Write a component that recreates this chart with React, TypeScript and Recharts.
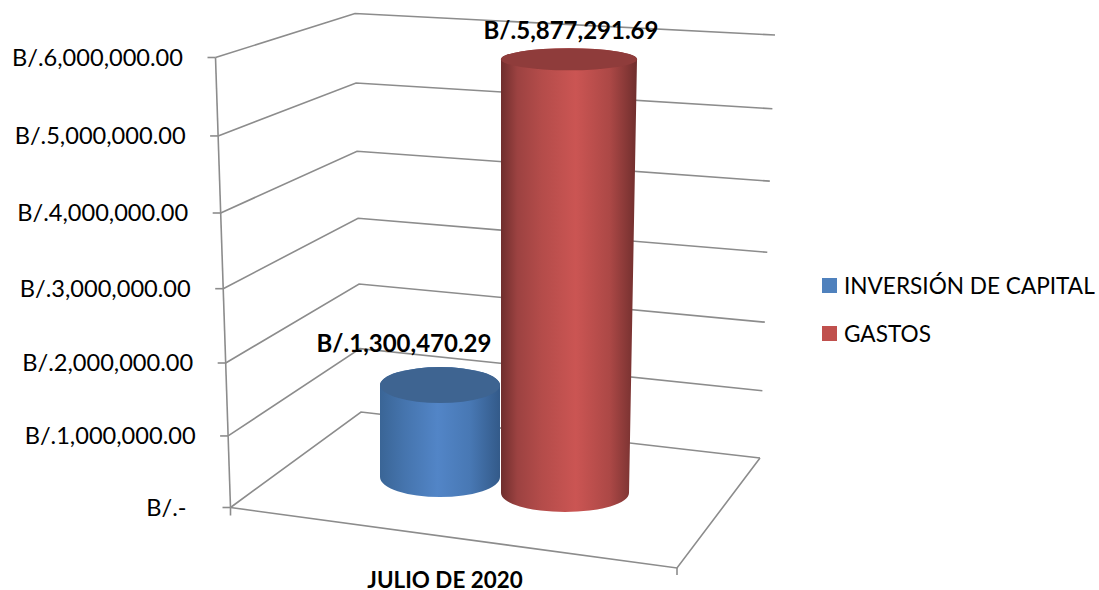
import { Bar, BarChart, CartesianGrid, LabelList, Legend, XAxis, YAxis } from "recharts";

const categories = ["JULIO DE 2020"];
const inversionValues = [1300470.29];
const gastosValues = [5877291.69];
const valueTicks = [0, 1000000, 2000000, 3000000, 4000000, 5000000, 6000000];

const rows = categories.map((category, i) => ({
  category,
  inversion: inversionValues[i],
  gastos: gastosValues[i],
}));

const FONT = "Lato, sans-serif";
const LINE = "#8c8c8c";

// plot box of the chart
const TOP = 57.5;
const BOTTOM = 507.5;

// the 3D walls are a bit squeezed towards the bottom
const warp = (y: number) => {
  const t = (BOTTOM - y) / (BOTTOM - TOP);
  return t - 0.055 * t * (1 - t);
};
const leftPoint = (y: number) => [230.5 - 15 * warp(y), 507.5 - 450 * warp(y)];
const backPoint = (y: number) => [361 - 6 * warp(y), 412 - 398.5 * warp(y)];
const rightPoint = (y: number) => [760 + 15 * warp(y), 458 - 423 * warp(y)];

const money = (v: number) =>
  v === 0
    ? "B/.-"
    : "B/." + v.toLocaleString("en-US", { minimumFractionDigits: 2, maximumFractionDigits: 2 });

function WallLine(props: any) {
  const y = props.y1;
  const l = leftPoint(y);
  const b = backPoint(y);
  const r = rightPoint(y);
  const isFloor = Math.abs(y - BOTTOM) < 0.5;
  const isRoof = Math.abs(y - TOP) < 0.5;
  return (
    <g fill="none" stroke={LINE} strokeWidth={1.6}>
      <polyline points={`${l} ${b} ${r}`} />
      {isFloor && <polyline points={`${l} 677,568 ${r}`} />}
      {isFloor && <line x1={677} y1={568} x2={677} y2={575} />}
      {isFloor && <line x1={l[0]} y1={l[1]} x2={l[0]} y2={l[1] + 8} />}
      {isRoof && <line x1={l[0]} y1={l[1]} x2={leftPoint(BOTTOM)[0]} y2={BOTTOM} />}
    </g>
  );
}

function ValueTick(props: any) {
  const { y, payload } = props;
  const p = leftPoint(y);
  const zero = payload.value === 0;
  return (
    <g>
      <line x1={p[0] - 8} y1={p[1]} x2={p[0]} y2={p[1]} stroke={LINE} strokeWidth={1.6} />
      <text
        x={zero ? 186.5 : p[0] - 32.5}
        y={p[1]}
        dy="0.36em"
        textAnchor="end"
        fontFamily={FONT}
        fontSize={23.6}
        fill="#000"
      >
        {money(payload.value)}
      </text>
    </g>
  );
}

function CategoryTick(props: any) {
  return (
    <text x={445} y={580} dy="0.36em" textAnchor="middle" fontFamily={FONT} fontSize={22.4} fontWeight={700} fill="#000">
      {props.payload.value}
    </text>
  );
}

const blueLook = { id: "blueBody", dx: 48, lift: 30.5, squash: 0.943, rxTop: 60, rxBottom: 60, ryTop: 18, ryBottom: 20, lean: 0, topFill: "#3e6491" };
const redLook = { id: "redBody", dx: 49, lift: 14.5, squash: 0.984, rxTop: 68, rxBottom: 64, ryTop: 11, ryBottom: 19, lean: 4, topFill: "#8f3c3b" };

function Cylinder(props: any) {
  const { x, y, width, height, look } = props;
  const baseY = y + height - look.lift;
  const topY = baseY - height * look.squash;
  const cx = x + width / 2 + look.dx;
  const topCx = cx + look.lean;
  const d = [
    `M${topCx - look.rxTop},${topY}`,
    `L${cx - look.rxBottom},${baseY}`,
    `A${look.rxBottom},${look.ryBottom} 0 0 0 ${cx + look.rxBottom},${baseY}`,
    `L${topCx + look.rxTop},${topY}`,
    `A${look.rxTop},${look.ryTop} 0 0 0 ${topCx - look.rxTop},${topY}`,
    "Z",
  ].join(" ");
  return (
    <g>
      <path d={d} fill={`url(#${look.id})`} />
      <ellipse cx={topCx} cy={topY} rx={look.rxTop} ry={look.ryTop} fill={look.topFill} />
    </g>
  );
}

const valueLabel = (dx: number, dy: number) => (props: any) => {
  const { x, y, width, value } = props;
  return (
    <text
      x={x + width / 2 + dx}
      y={y + dy}
      dy="0.36em"
      textAnchor="middle"
      fontFamily={FONT}
      fontSize={24}
      fontWeight={700}
      fill="#000"
    >
      {money(value)}
    </text>
  );
};

function LegendBox(props: any) {
  const { payload } = props;
  return (
    <div style={{ width: 270, fontFamily: FONT, fontSize: 22.6, color: "#000", whiteSpace: "nowrap" }}>
      {(payload || []).map((item: any) => (
        <div key={item.value} style={{ display: "flex", alignItems: "center", height: 48 }}>
          <span style={{ width: 15, height: 15, flexShrink: 0, background: item.color, marginRight: 7, display: "block" }} />
          <span>{item.value}</span>
        </div>
      ))}
    </div>
  );
}

export default function App() {
  return (
    <div style={{ position: "absolute", left: 0, top: 0, background: "#fff" }}>
      <BarChart
        width={1099}
        height={590}
        data={rows}
        barSize={124}
        barGap={0}
        margin={{ top: 57.5, right: 152, bottom: 52.5, left: 0 }}
      >
        <defs>
          <linearGradient id="blueBody" x1="0" y1="0" x2="1" y2="0">
            <stop offset="0" stopColor="#3a6596" />
            <stop offset="0.2" stopColor="#4574ad" />
            <stop offset="0.48" stopColor="#5285c7" />
            <stop offset="0.75" stopColor="#4878b4" />
            <stop offset="1" stopColor="#335a89" />
          </linearGradient>
          <linearGradient id="redBody" x1="0" y1="0" x2="1" y2="0">
            <stop offset="0" stopColor="#6f2e2d" />
            <stop offset="0.12" stopColor="#9c4241" />
            <stop offset="0.3" stopColor="#b44c4a" />
            <stop offset="0.55" stopColor="#cb5553" />
            <stop offset="0.8" stopColor="#ac4846" />
            <stop offset="1" stopColor="#6f2e2d" />
          </linearGradient>
        </defs>
        <CartesianGrid horizontal={(p: any) => <WallLine key={p.y1} {...p} />} vertical={false} />
        <XAxis dataKey="category" axisLine={false} tickLine={false} height={30} tick={<CategoryTick />} />
        <YAxis
          width={231}
          domain={[0, 6000000]}
          ticks={valueTicks}
          interval={0}
          axisLine={false}
          tickLine={false}
          tick={<ValueTick />}
        />
        <Legend
          layout="vertical"
          align="right"
          verticalAlign="middle"
          itemSorter={null}
          wrapperStyle={{ left: 822, right: "auto", top: 261, width: 270 }}
          content={<LegendBox />}
        />
        <Bar
          dataKey="inversion"
          name="INVERSIÓN DE CAPITAL"
          fill="#4f81bd"
          isAnimationActive={false}
          shape={(p: any) => <Cylinder {...p} look={blueLook} />}
        >
          <LabelList dataKey="inversion" content={valueLabel(12, -67)} />
        </Bar>
        <Bar
          dataKey="gastos"
          name="GASTOS"
          fill="#c0504d"
          isAnimationActive={false}
          shape={(p: any) => <Cylinder {...p} look={redLook} />}
        >
          <LabelList dataKey="gastos" content={valueLabel(55, -36)} />
        </Bar>
      </BarChart>
    </div>
  );
}
